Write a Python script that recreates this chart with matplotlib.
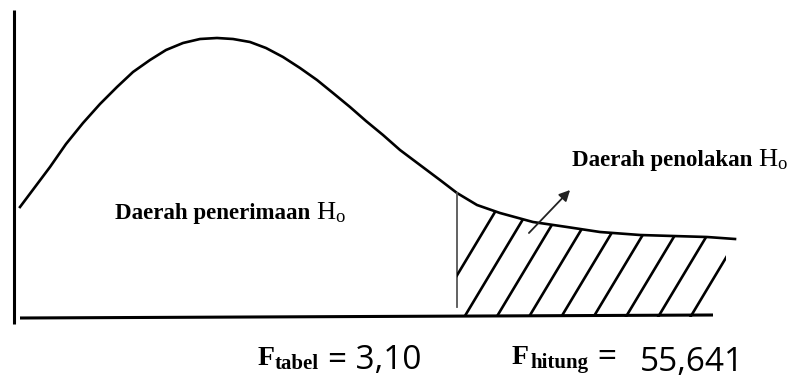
import numpy as np
import matplotlib
matplotlib.use('Agg')
import matplotlib.pyplot as plt
from matplotlib.patches import Polygon

# curve (pixel coords, y grows downwards)
curve_x = [20, 35, 50, 66, 83, 100, 117, 133, 150, 166, 183, 200, 217, 233, 250, 266, 283,
           300, 317, 333, 350, 366, 383, 400, 420, 440, 457, 477, 500, 533, 567, 600,
           640, 673, 707, 735]
curve_y = [207, 187, 167, 144, 123, 104, 87, 72, 60, 50, 43, 39, 38, 39, 42, 48, 57,
           68, 80, 93, 107, 121, 135, 150, 165, 180, 193, 205, 213, 222, 227, 232,
           235, 236, 237, 239]

f_tabel_x = 457      # critical value line
tail_end_x = 726     # right end of the shaded area
axis_y = 317

label_accept = 'Daerah penerimaan'
label_reject = 'Daerah penolakan'
f_tabel = '3,10'
f_hitung = '55,641'

plt.rcParams['mathtext.fontset'] = 'custom'
plt.rcParams['mathtext.rm'] = 'Liberation Serif'
plt.rcParams['mathtext.bf'] = 'Liberation Serif:bold'

fig = plt.figure(figsize=(7.94, 3.79), dpi=100)
ax = fig.add_axes([0, 0, 1, 1])
ax.set_xlim(0, 794)
ax.set_ylim(379, 0)
ax.axis('off')

# axes of the sketch
ax.plot([14, 14], [10, 324], color='black', lw=2.2, solid_capstyle='butt')
ax.plot([20, 713], [axis_y + 1, axis_y - 2], color='black', lw=2.2, solid_capstyle='butt')

# density curve
ax.plot(curve_x, curve_y, color='black', lw=1.9)

# critical value line
top_at_crit = np.interp(f_tabel_x, curve_x, curve_y)
ax.plot([f_tabel_x, f_tabel_x], [top_at_crit, 307], color='#555555', lw=1.3)

# hatched rejection area, lines clipped to region under the curve
xs = np.linspace(f_tabel_x, tail_end_x, 60)
region = np.column_stack([np.r_[xs, tail_end_x, f_tabel_x],
                          np.r_[np.interp(xs, curve_x, curve_y), axis_y, axis_y]])
clip = Polygon(region, closed=True, facecolor='none', edgecolor='none')
ax.add_patch(clip)
slope = 0.6
for xb in np.arange(432, 700, 32.3):
    ln, = ax.plot([xb, xb + slope * 200], [axis_y, axis_y - 200], color='black', lw=1.9)
    ln.set_clip_path(clip)

# arrow to the rejection label
ax.annotate('', xy=(572, 188), xytext=(527, 235),
            arrowprops=dict(arrowstyle='-|>', color='#222222', lw=1.3, mutation_scale=16))

# region labels: bold text followed by a larger regular H with small o
serif_b = dict(family='Liberation Serif', weight='bold', fontsize=16.5)
for x, y, lab in [(115, 219, label_accept), (572, 166, label_reject)]:
    t = ax.text(x, y, lab + ' ', va='baseline', ha='left', **serif_b)
    ax.annotate(r'$\mathrm{H_o}$', xy=(1, 0.2), xycoords=t, va='baseline', ha='left',
                fontsize=19)

# bottom values
big_f = dict(family='Liberation Serif', weight='bold', fontsize=20)
sub_f = dict(family='Liberation Serif', weight='bold', fontsize=15)
ax.text(258, 365, 'F', va='baseline', ha='left', **big_f)
ax.text(275, 369, 'tabel', va='baseline', ha='left', **sub_f)
ax.text(421, 369, '= ' + f_tabel, family='Open Sans', fontsize=24, va='baseline', ha='right')

ax.text(512, 364, 'F', va='baseline', ha='left', **big_f)
ax.text(530, 368, 'hitung', va='baseline', ha='left', **sub_f)
ax.text(597, 366, '=', family='Liberation Serif', weight='bold', fontsize=24,
        va='baseline', ha='left')
ax.text(744, 371, f_hitung, family='Open Sans', fontsize=24, va='baseline', ha='right')

fig.savefig('out.png', dpi=100)
